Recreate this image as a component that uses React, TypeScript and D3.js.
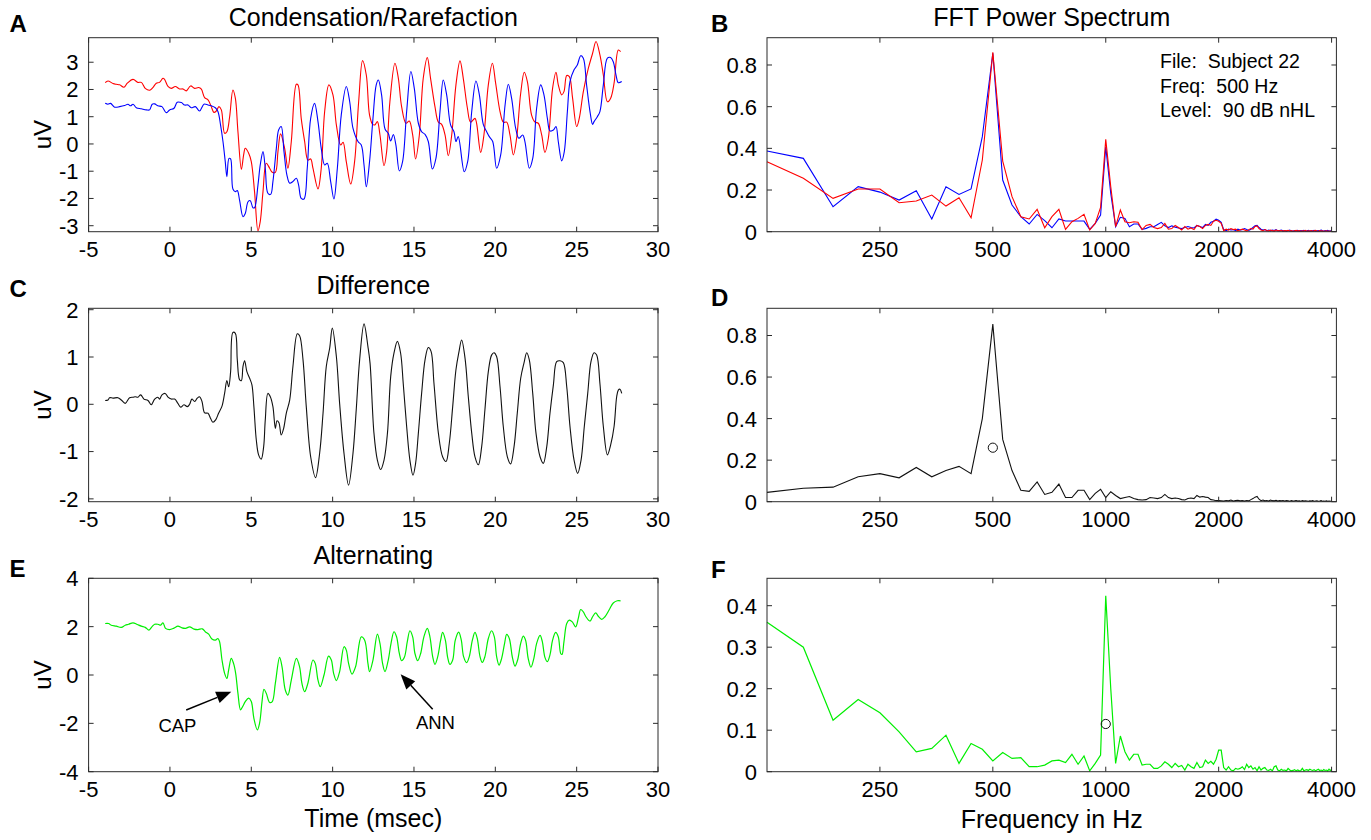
import React from 'react';
import * as d3 from 'd3';

const FONT = '"Liberation Sans", Arial, Helvetica, sans-serif';

// ---------- Time-domain waveforms [time ms, uV] ----------
const condensationWave: [number, number][] = [
[-3.98,2.25],[-3.81,2.31],[-3.50,2.22],[-3.30,2.19],[-3.09,2.17],[-2.83,2.08],[-2.62,2.23],[-2.27,2.37],[-1.97,2.26],[-1.76,2.26],[-1.52,2.04],[-1.25,1.97],[-1.05,2.07],[-0.84,2.23],[-0.64,2.26],[-0.43,2.41],[-0.33,2.37],[-0.12,2.11],[0.08,2.04],[0.33,2.11],[0.59,2.02],[0.80,2.02],[1.00,1.95],[1.27,2.13],[1.52,2.04],[1.76,2.07],[1.93,2.01],[2.13,1.70],[2.34,1.62],[2.54,1.37],[2.70,1.16],[2.85,1.21],[3.01,1.37],[3.16,1.25],[3.36,0.39],[3.50,0.45],[3.67,1.00],[3.87,1.98],[4.02,1.68],[4.18,0.45],[4.39,-0.93],[4.53,-0.40],[4.63,-0.16],[4.84,-0.34],[5.00,-0.65],[5.20,-1.75],[5.41,-3.19],[5.55,-2.85],[5.72,-1.75],[5.92,-0.71],[6.13,-0.89],[6.29,-1.04],[6.48,-1.04],[6.64,-0.28],[6.80,0.37],[7.05,-0.16],[7.25,-0.89],[7.46,0.09],[7.77,2.19],[7.87,2.17],[8.07,0.94],[8.28,0.09],[8.48,-0.59],[8.65,-0.55],[8.79,-0.89],[9.10,-1.65],[9.30,-0.89],[9.51,1.19],[9.77,2.17],[10.02,1.80],[10.23,0.70],[10.49,-0.04],[10.64,0.06],[10.84,-0.65],[11.11,-1.47],[11.35,-0.65],[11.60,1.55],[11.84,3.06],[12.07,2.53],[12.27,1.06],[12.46,0.72],[12.60,0.70],[12.75,0.82],[12.91,0.33],[13.16,-0.80],[13.32,-0.28],[13.52,1.55],[13.83,2.96],[14.04,2.41],[14.24,1.37],[14.51,0.76],[14.71,0.84],[14.92,0.33],[15.10,-0.55],[15.33,0.33],[15.57,2.41],[15.82,3.17],[16.02,2.41],[16.29,1.37],[16.50,0.80],[16.70,0.72],[16.91,0.33],[17.11,-0.43],[17.32,0.33],[17.58,2.17],[17.83,3.05],[18.03,2.41],[18.28,1.33],[18.48,0.80],[18.75,0.94],[18.85,0.76],[19.10,-0.31],[19.30,0.33],[19.57,2.17],[19.82,2.96],[20.02,2.23],[20.29,1.19],[20.49,0.80],[20.70,0.80],[20.90,0.33],[21.11,-0.40],[21.31,0.21],[21.56,1.86],[21.78,2.63],[21.97,2.29],[22.23,1.06],[22.44,0.80],[22.64,0.76],[22.85,0.33],[23.05,-0.31],[23.26,0.21],[23.52,2.04],[23.73,2.63],[23.87,2.17],[24.08,1.80],[24.22,1.92],[24.39,2.51],[24.55,2.47],[24.75,1.68],[25.00,0.64],[25.16,0.94],[25.41,1.92],[25.72,2.78],[25.98,3.33],[26.19,3.76],[26.43,3.27],[26.64,2.53],[26.89,1.55],[27.09,1.68],[27.30,2.23],[27.56,3.45],[27.70,3.39]
];

const rarefactionWave: [number, number][] = [
[-3.98,1.49],[-3.81,1.46],[-3.65,1.49],[-3.40,1.35],[-3.09,1.37],[-2.79,1.41],[-2.58,1.46],[-2.42,1.40],[-2.27,1.46],[-2.07,1.33],[-1.76,1.29],[-1.45,1.25],[-1.25,1.25],[-1.09,1.46],[-0.94,1.47],[-0.74,1.40],[-0.49,1.37],[-0.23,1.15],[-0.02,1.25],[0.25,1.31],[0.45,1.53],[0.70,1.52],[0.90,1.43],[1.11,1.43],[1.31,1.33],[1.56,1.37],[1.82,1.21],[2.09,1.46],[2.34,1.43],[2.54,1.40],[2.79,1.33],[2.95,1.19],[3.11,0.70],[3.26,0.09],[3.40,-0.65],[3.50,-1.20],[3.63,-0.53],[3.73,-0.55],[3.87,-1.65],[4.02,-1.75],[4.14,-1.71],[4.28,-2.06],[4.49,-2.67],[4.63,-2.55],[4.80,-2.12],[4.94,-2.08],[5.10,-2.34],[5.20,-2.34],[5.41,-1.51],[5.55,-0.77],[5.72,-0.28],[5.86,-0.89],[6.02,-1.81],[6.19,-1.85],[6.33,-1.38],[6.54,-0.16],[6.68,0.51],[6.84,0.64],[7.01,-0.28],[7.19,-1.14],[7.36,-1.44],[7.56,-1.38],[7.77,-1.26],[7.91,-1.51],[8.07,-2.00],[8.24,-2.02],[8.44,-0.89],[8.65,0.94],[8.89,1.49],[9.10,0.82],[9.30,-0.16],[9.51,-0.77],[9.67,-0.71],[9.88,-1.38],[10.08,-2.02],[10.29,-0.89],[10.53,1.06],[10.84,2.11],[11.05,1.55],[11.25,0.58],[11.56,0.09],[11.76,-0.04],[11.93,-0.77],[12.07,-1.57],[12.27,-0.65],[12.48,0.94],[12.68,2.17],[12.81,2.35],[13.01,1.80],[13.22,0.55],[13.42,0.39],[13.57,0.11],[13.73,0.35],[13.89,-0.04],[14.10,-0.99],[14.30,-0.65],[14.55,1.19],[14.81,2.66],[15.02,2.04],[15.27,0.76],[15.47,0.45],[15.68,0.35],[15.88,0.09],[16.13,-0.92],[16.35,-0.53],[16.60,1.19],[16.80,2.35],[17.01,1.80],[17.25,0.70],[17.46,0.45],[17.58,0.09],[17.72,0.27],[18.09,-1.02],[18.30,-0.65],[18.55,1.19],[18.81,2.31],[19.02,1.80],[19.26,0.72],[19.47,0.45],[19.63,0.27],[19.84,0.09],[20.08,-0.89],[20.33,-0.40],[20.60,1.43],[20.80,2.19],[21.00,1.68],[21.25,0.58],[21.45,0.21],[21.68,0.33],[21.82,0.09],[22.09,-0.89],[22.30,-0.53],[22.54,1.31],[22.79,2.17],[22.99,1.80],[23.20,0.94],[23.36,0.48],[23.57,0.51],[23.73,0.64],[23.87,0.09],[24.08,-0.62],[24.24,-0.28],[24.43,1.19],[24.59,2.29],[24.84,2.72],[25.04,2.90],[25.25,3.24],[25.41,3.15],[25.61,2.17],[25.82,1.19],[25.98,0.72],[26.07,0.82],[26.27,1.00],[26.43,1.19],[26.64,2.17],[26.89,3.15],[27.09,3.17],[27.25,3.02],[27.42,2.53],[27.56,2.25],[27.77,2.29]
];

const differenceWave: [number, number][] = [
[-3.98,0.08],[-3.81,0.09],[-3.71,0.14],[-3.50,0.13],[-3.20,0.14],[-2.99,0.09],[-2.75,0.02],[-2.48,0.14],[-2.27,0.15],[-2.13,0.16],[-1.97,0.15],[-1.80,0.20],[-1.60,0.11],[-1.35,0.08],[-1.15,-0.01],[-0.94,0.11],[-0.74,0.15],[-0.64,0.11],[-0.49,0.20],[-0.29,0.23],[-0.12,0.15],[0.08,0.11],[0.29,0.11],[0.49,0.02],[0.66,-0.06],[0.86,-0.01],[1.07,-0.05],[1.21,0.00],[1.35,0.11],[1.52,0.06],[1.68,0.13],[1.82,0.16],[1.97,0.06],[2.13,-0.18],[2.34,-0.19],[2.50,-0.30],[2.64,-0.38],[2.81,-0.33],[2.99,-0.19],[3.20,-0.04],[3.36,0.23],[3.50,0.50],[3.61,0.37],[3.73,0.69],[3.87,1.52],[4.02,1.50],[4.14,0.94],[4.28,0.52],[4.39,0.50],[4.49,0.80],[4.59,0.92],[4.73,0.69],[4.90,0.55],[5.04,0.41],[5.16,-0.05],[5.31,-0.76],[5.45,-1.07],[5.61,-1.16],[5.76,-0.90],[5.86,-0.33],[6.02,0.23],[6.17,0.16],[6.33,-0.05],[6.48,-0.51],[6.58,-0.35],[6.70,-0.39],[6.84,-0.65],[6.99,-0.51],[7.15,-0.19],[7.36,0.09],[7.56,0.80],[7.83,1.49],[7.97,1.45],[8.18,0.94],[8.38,-0.05],[8.65,-1.11],[8.95,-1.55],[9.20,-1.04],[9.41,-0.19],[9.61,0.80],[9.82,1.19],[9.98,1.61],[10.23,1.01],[10.43,0.02],[10.70,-1.04],[10.98,-1.71],[11.25,-1.04],[11.45,-0.12],[11.66,0.94],[11.93,1.70],[12.17,1.22],[12.30,0.87],[12.54,-0.61],[12.75,-1.18],[12.95,-1.38],[13.16,-1.18],[13.37,-0.61],[13.57,0.59],[13.77,1.08],[13.98,1.33],[14.18,1.08],[14.34,0.44],[14.55,-0.47],[14.75,-1.18],[14.94,-1.50],[15.10,-1.25],[15.27,-0.61],[15.47,0.23],[15.68,0.94],[15.88,1.20],[16.05,1.12],[16.23,0.44],[16.50,-0.61],[16.76,-1.11],[16.97,-1.21],[17.17,-0.83],[17.38,-0.05],[17.58,0.73],[17.75,1.08],[17.93,1.36],[18.14,0.97],[18.34,0.16],[18.55,-0.61],[18.75,-1.11],[18.96,-1.28],[19.16,-0.90],[19.36,-0.12],[19.57,0.69],[19.77,1.04],[19.92,1.09],[20.08,1.01],[20.29,0.37],[20.49,-0.47],[20.74,-1.11],[20.94,-1.26],[21.15,-0.90],[21.35,-0.19],[21.56,0.55],[21.76,0.87],[21.93,1.09],[22.09,0.94],[22.30,0.23],[22.50,-0.61],[22.75,-1.11],[22.95,-1.25],[23.16,-0.90],[23.36,-0.19],[23.57,0.41],[23.77,0.90],[23.98,0.92],[24.18,0.88],[24.39,0.37],[24.59,-0.47],[24.84,-1.18],[25.06,-1.46],[25.27,-1.18],[25.47,-0.47],[25.68,0.23],[25.88,0.90],[26.07,1.09],[26.23,1.04],[26.43,0.44],[26.64,-0.47],[26.89,-1.07],[27.09,-0.86],[27.30,-0.47],[27.46,0.16],[27.56,0.30],[27.66,0.32],[27.77,0.23]
];

const alternatingWave: [number, number][] = [
[-3.98,2.13],[-3.77,2.13],[-3.61,2.06],[-3.30,2.02],[-2.99,1.97],[-2.75,2.06],[-2.54,2.10],[-2.27,2.16],[-2.01,2.09],[-1.76,2.02],[-1.52,1.97],[-1.29,1.86],[-1.11,1.99],[-0.94,2.10],[-0.74,2.10],[-0.57,2.06],[-0.43,2.16],[-0.27,1.93],[-0.02,1.88],[0.25,1.94],[0.49,2.02],[0.74,1.95],[0.96,1.93],[1.21,1.99],[1.48,1.90],[1.72,1.88],[1.99,1.91],[2.17,1.79],[2.38,1.69],[2.58,1.49],[2.79,1.44],[2.95,1.51],[3.05,1.38],[3.20,0.62],[3.36,0.07],[3.50,-0.14],[3.61,0.21],[3.77,0.69],[3.91,0.48],[4.04,0.07],[4.18,-0.76],[4.34,-1.44],[4.49,-1.28],[4.63,-1.10],[4.84,-0.96],[5.00,-1.10],[5.16,-1.79],[5.37,-2.27],[5.51,-1.99],[5.66,-1.10],[5.78,-0.59],[5.92,-0.76],[6.13,-1.14],[6.29,-1.10],[6.48,-0.34],[6.74,0.73],[6.89,0.34],[7.09,-0.62],[7.25,-0.83],[7.46,-0.21],[7.77,0.69],[7.97,0.34],[8.11,-0.34],[8.28,-0.69],[8.48,-0.34],[8.79,0.62],[8.93,0.48],[9.10,-0.21],[9.24,-0.48],[9.47,0.00],[9.75,0.78],[9.92,0.62],[10.06,0.07],[10.23,-0.23],[10.43,0.14],[10.70,1.17],[10.84,1.03],[10.98,0.48],[11.19,0.04],[11.41,0.34],[11.76,1.58],[11.97,1.44],[12.17,0.48],[12.27,0.14],[12.48,0.62],[12.75,1.69],[12.91,1.31],[13.07,0.48],[13.22,0.14],[13.42,0.62],[13.59,1.31],[13.77,1.79],[13.93,1.58],[14.10,0.89],[14.24,0.59],[14.41,0.73],[14.59,1.38],[14.75,1.83],[14.92,1.58],[15.06,0.89],[15.23,0.59],[15.41,0.89],[15.61,1.58],[15.82,1.93],[15.98,1.58],[16.15,0.76],[16.29,0.44],[16.46,0.76],[16.64,1.44],[16.76,1.76],[16.93,1.44],[17.07,0.73],[17.21,0.44],[17.38,0.62],[17.54,1.44],[17.75,1.77],[17.91,1.44],[18.05,0.76],[18.24,0.51],[18.40,0.76],[18.59,1.44],[18.75,1.76],[18.89,1.51],[19.06,0.76],[19.20,0.52],[19.36,0.76],[19.57,1.51],[19.77,1.83],[19.94,1.58],[20.08,0.76],[20.23,0.41],[20.39,0.69],[20.57,1.31],[20.70,1.68],[20.86,1.51],[21.05,0.73],[21.21,0.37],[21.37,0.62],[21.56,1.31],[21.72,1.61],[21.86,1.44],[22.02,0.69],[22.19,0.32],[22.37,0.69],[22.54,1.31],[22.75,1.64],[22.89,1.38],[23.05,0.73],[23.20,0.55],[23.36,0.83],[23.52,1.44],[23.71,1.76],[23.87,1.58],[24.02,0.89],[24.10,0.85],[24.22,1.38],[24.39,2.13],[24.55,2.27],[24.73,2.20],[24.94,1.99],[25.10,2.34],[25.25,2.71],[25.41,2.61],[25.57,2.41],[25.82,2.23],[25.98,2.41],[26.17,2.57],[26.33,2.43],[26.54,2.30],[26.74,2.41],[27.01,2.71],[27.25,2.98],[27.50,3.07],[27.70,3.07]
];

// ---------- FFT power spectra: bins 4..128 of 31.25 Hz ----------
const binHz = 31.25;
const firstBin = 4;

const fftCondensation = [
0.336,0.256,0.160,0.205,0.205,0.139,0.147,0.176,0.123,0.163,
0.067,0.344,0.861,0.339,0.168,0.072,0.061,0.107,0.019,0.072,
0.107,0.011,0.048,0.064,0.083,0.008,0.040,0.117,0.443,0.216,
0.024,0.104,0.048,0.043,0.048,0.045,0.010,0.030,0.035,0.020,
0.015,0.020,0.040,0.012,0.015,0.030,0.020,0.008,0.025,0.012,
0.018,0.010,0.030,0.025,0.015,0.030,0.035,0.030,0.050,0.055,
0.050,0.040,0.005,0.012,0.008,0.015,0.010,0.012,0.005,0.008,
0.012,0.008,0.004,0.010,0.015,0.012,0.025,0.028,0.015,0.008,
0.005,0.010,0.006,0.004,0.008,0.005,0.003,0.008,0.006,0.004,
0.006,0.003,0.005,0.004,0.007,0.003,0.005,0.002,0.004,0.006,
0.003,0.005,0.002,0.004,0.003,0.006,0.002,0.004,0.003,0.005,
0.002,0.004,0.006,0.003,0.002,0.005,0.003,0.004,0.002,0.003,
0.004,0.002,0.003,0.002,0.003
];

const fftRarefaction = [
0.387,0.352,0.120,0.216,0.190,0.152,0.197,0.061,0.216,0.179,
0.205,0.456,0.856,0.248,0.128,0.072,0.037,0.083,0.053,0.019,
0.061,0.051,0.051,0.051,0.051,0.011,0.040,0.080,0.408,0.184,
0.024,0.069,0.064,0.024,0.037,0.037,0.011,0.016,0.024,0.024,
0.035,0.045,0.028,0.020,0.028,0.022,0.018,0.015,0.020,0.025,
0.020,0.018,0.030,0.025,0.020,0.035,0.030,0.045,0.050,0.060,
0.055,0.045,0.010,0.005,0.012,0.008,0.010,0.005,0.012,0.008,
0.010,0.015,0.010,0.006,0.012,0.020,0.028,0.030,0.020,0.012,
0.008,0.010,0.005,0.008,0.004,0.008,0.006,0.010,0.004,0.006,
0.008,0.004,0.006,0.003,0.005,0.008,0.004,0.003,0.005,0.004,
0.006,0.003,0.005,0.004,0.007,0.003,0.004,0.006,0.003,0.005,
0.004,0.006,0.003,0.004,0.005,0.003,0.008,0.004,0.003,0.005,
0.004,0.006,0.003,0.004,0.003
];

const fftDifference = [
0.045,0.065,0.070,0.120,0.135,0.115,0.165,0.120,0.150,0.170,
0.135,0.400,0.855,0.300,0.150,0.055,0.050,0.095,0.035,0.045,
0.085,0.020,0.020,0.055,0.055,0.010,0.040,0.060,0.020,0.048,
0.030,0.015,0.020,0.025,0.015,0.010,0.008,0.010,0.020,0.018,
0.015,0.020,0.035,0.020,0.015,0.018,0.015,0.010,0.008,0.015,
0.018,0.015,0.030,0.022,0.025,0.022,0.020,0.010,0.008,0.005,
0.005,0.004,0.003,0.006,0.004,0.008,0.003,0.005,0.007,0.004,
0.005,0.003,0.006,0.004,0.010,0.015,0.022,0.025,0.012,0.005,
0.008,0.004,0.006,0.003,0.008,0.005,0.004,0.007,0.003,0.005,
0.004,0.006,0.003,0.005,0.004,0.002,0.005,0.003,0.004,0.006,
0.003,0.004,0.002,0.005,0.003,0.004,0.003,0.002,0.004,0.003,
0.005,0.002,0.003,0.004,0.002,0.003,0.005,0.002,0.003,0.002,
0.004,0.002,0.003,0.002,0.003
];

const fftAlternating = [
0.360,0.300,0.124,0.174,0.142,0.096,0.048,0.056,0.088,0.020,
0.068,0.054,0.026,0.046,0.032,0.034,0.012,0.012,0.016,0.026,
0.028,0.022,0.042,0.018,0.038,0.002,0.020,0.040,0.424,0.200,
0.020,0.086,0.048,0.028,0.042,0.042,0.016,0.018,0.018,0.008,
0.008,0.014,0.024,0.018,0.010,0.020,0.012,0.015,0.004,0.018,
0.012,0.008,0.022,0.010,0.012,0.028,0.020,0.025,0.018,0.030,
0.052,0.052,0.010,0.004,0.012,0.004,0.002,0.008,0.006,0.008,
0.012,0.005,0.018,0.010,0.014,0.006,0.010,0.002,0.012,0.004,
0.008,0.010,0.004,0.003,0.006,0.002,0.012,0.014,0.004,0.002,
0.006,0.003,0.004,0.002,0.008,0.004,0.002,0.003,0.005,0.002,
0.004,0.002,0.003,0.008,0.002,0.004,0.005,0.003,0.006,0.004,
0.003,0.005,0.002,0.004,0.006,0.003,0.004,0.002,0.005,0.003,
0.004,0.002,0.006,0.003,0.005
];

// Stimulus-frequency markers (open circles) [Hz, value]
const markerD: [number, number] = [500, 0.26];
const markerF: [number, number] = [1000, 0.115];

// Tick values and labels
const timeTicks = [-5, 0, 5, 10, 15, 20, 25, 30];
const freqTicks = [250, 500, 1000, 2000, 4000];
const ticksA = [-3, -2, -1, 0, 1, 2, 3];
const ticksC = [-2, -1, 0, 1, 2];
const ticksE = [-4, -2, 0, 2, 4];
const ticksBD = [0, 0.2, 0.4, 0.6, 0.8];
const ticksF = [0, 0.1, 0.2, 0.3, 0.4];

const infoLines = ['File:  Subject 22', 'Freq:  500 Hz', 'Level:  90 dB nHL'];

const annotations = [
  { label: 'CAP', tip: [3.77, -0.69], tail: [1.0, -1.45], text: [0.46, -2.35] },
  { label: 'ANN', tip: [14.18, 0.03], tail: [16.15, -1.42], text: [16.32, -2.25] },
];

// ---------- Layout ----------
const LX0 = 88.6, LX1 = 658;
const RX0 = 767, RX1 = 1336.4;
const ROWS = [
  { top: 37.7, bottom: 231.7 },
  { top: 308.3, bottom: 501.7 },
  { top: 578.3, bottom: 771.7 },
];

const AXIS = '#2b2b2b';
const TICK_FS = 22;
const TICKLEN = 5;

const fftPoints = (vals: number[]) => vals.map((v, i) => [(firstBin + i) * binHz, v] as [number, number]);

type Scale = (v: number) => number;

function Frame({ x0, x1, y0, y1, xs, ys, xTicks, yTicks, fmtY }: {
  x0: number; x1: number; y0: number; y1: number; xs: Scale; ys: Scale;
  xTicks: number[]; yTicks: number[]; fmtY: (v: number) => string;
}) {
  return (
    <g>
      <rect x={x0} y={y0} width={x1 - x0} height={y1 - y0} fill="none" stroke={AXIS} strokeWidth={1} />
      {xTicks.map((t) => {
        const x = xs(t);
        return (
          <g key={'x' + t}>
            <line x1={x} x2={x} y1={y1} y2={y1 - TICKLEN} stroke={AXIS} />
            <line x1={x} x2={x} y1={y0} y2={y0 + TICKLEN} stroke={AXIS} />
            <text x={x} y={y1 + 25} textAnchor="middle" fontSize={TICK_FS} fontFamily={FONT} fill="#000">{String(t)}</text>
          </g>
        );
      })}
      {yTicks.map((t) => {
        const y = ys(t);
        return (
          <g key={'y' + t}>
            <line x1={x0} x2={x0 + TICKLEN} y1={y} y2={y} stroke={AXIS} />
            <line x1={x1} x2={x1 - TICKLEN} y1={y} y2={y} stroke={AXIS} />
            <text x={x0 - 10} y={y + TICK_FS * 0.36} textAnchor="end" fontSize={TICK_FS} fontFamily={FONT} fill="#000">{fmtY(t)}</text>
          </g>
        );
      })}
    </g>
  );
}

export default function App() {
  const xTime = d3.scaleLinear().domain([-5, 30]).range([LX0, LX1]);
  const xFreq = d3.scaleLog().base(2).domain([125, 4120]).range([RX0, RX1]);

  const yA = d3.scaleLinear().domain([-3.22, 3.9]).range([ROWS[0].bottom, ROWS[0].top]);
  const yC = d3.scaleLinear().domain([-2.06, 2.03]).range([ROWS[1].bottom, ROWS[1].top]);
  const yE = d3.scaleLinear().domain([-4, 4]).range([ROWS[2].bottom, ROWS[2].top]);
  const yB = d3.scaleLinear().domain([0, 0.931]).range([ROWS[0].bottom, ROWS[0].top]);
  const yD = d3.scaleLinear().domain([0, 0.931]).range([ROWS[1].bottom, ROWS[1].top]);
  const yF = d3.scaleLinear().domain([0, 0.466]).range([ROWS[2].bottom, ROWS[2].top]);

  const wave = (ys: Scale) =>
    d3.line<[number, number]>().x((d) => xTime(d[0])).y((d) => ys(d[1])).curve(d3.curveCatmullRom.alpha(0.5));
  const spec = (ys: Scale) =>
    d3.line<[number, number]>().x((d) => xFreq(d[0])).y((d) => ys(d[1]));

  const fmtInt = (v: number) => String(v);
  const fmtDec = (v: number) => (v === 0 ? '0' : String(v));

  const titleStyle = { fontSize: 25, fontFamily: FONT, fill: '#000' };
  const letterStyle = { fontSize: 24, fontFamily: FONT, fontWeight: 700 as const, fill: '#000' };

  const lcx = (LX0 + LX1) / 2;
  const rcx = (RX0 + RX1) / 2;

  const arrow = (a: typeof annotations[0]) => {
    const tx = xTime(a.tip[0]), ty = yE(a.tip[1]);
    const sx = xTime(a.tail[0]), sy = yE(a.tail[1]);
    const ang = Math.atan2(ty - sy, tx - sx);
    const L = 15, W = 6;
    const bx = tx - L * Math.cos(ang), by = ty - L * Math.sin(ang);
    const px = -Math.sin(ang), py = Math.cos(ang);
    const pts = `${tx},${ty} ${bx + W * px},${by + W * py} ${bx - W * px},${by - W * py}`;
    return (
      <g key={a.label}>
        <line x1={sx} y1={sy} x2={bx} y2={by} stroke="#000" strokeWidth={1.5} />
        <polygon points={pts} fill="#000" />
        <text x={xTime(a.text[0])} y={yE(a.text[1])} textAnchor="middle" fontSize={18.5} fontFamily={FONT} fill="#000">{a.label}</text>
      </g>
    );
  };

  return (
    <svg width={1371} height={840} style={{ position: 'absolute', left: 0, top: 0, background: '#fff' }}>
      <rect width={1371} height={840} fill="#fff" />

      {/* Panel letters */}
      <text x={9.5} y={31.5} {...letterStyle}>A</text>
      <text x={711} y={31.5} {...letterStyle}>B</text>
      <text x={9.5} y={297} {...letterStyle}>C</text>
      <text x={711} y={306} {...letterStyle}>D</text>
      <text x={9.5} y={577} {...letterStyle}>E</text>
      <text x={711} y={578} {...letterStyle}>F</text>

      {/* Titles */}
      <text x={lcx} y={26} textAnchor="middle" {...titleStyle}>Condensation/Rarefaction</text>
      <text x={rcx} y={26} textAnchor="middle" {...titleStyle}>FFT Power Spectrum</text>
      <text x={lcx} y={294} textAnchor="middle" {...titleStyle}>Difference</text>
      <text x={lcx} y={564} textAnchor="middle" {...titleStyle}>Alternating</text>

      {/* Y labels */}
      {ROWS.map((r, i) => (
        <text key={'uv' + i} transform={`translate(51,${(r.top + r.bottom) / 2}) rotate(-90)`} textAnchor="middle" fontSize={24} fontFamily={FONT} fill="#000">uV</text>
      ))}

      {/* X labels */}
      <text x={lcx} y={827} textAnchor="middle" {...titleStyle}>Time (msec)</text>
      <text x={rcx} y={828} textAnchor="middle" {...titleStyle}>Frequency in Hz</text>

      {/* Panel A */}
      <path d={wave(yA)(condensationWave) || ''} fill="none" stroke="#ff0000" strokeWidth={1.1} />
      <path d={wave(yA)(rarefactionWave) || ''} fill="none" stroke="#0000ff" strokeWidth={1.1} />
      <Frame x0={LX0} x1={LX1} y0={ROWS[0].top} y1={ROWS[0].bottom} xs={xTime} ys={yA} xTicks={timeTicks} yTicks={ticksA} fmtY={fmtInt} />

      {/* Panel C */}
      <path d={wave(yC)(differenceWave) || ''} fill="none" stroke="#111" strokeWidth={1.1} />
      <Frame x0={LX0} x1={LX1} y0={ROWS[1].top} y1={ROWS[1].bottom} xs={xTime} ys={yC} xTicks={timeTicks} yTicks={ticksC} fmtY={fmtInt} />

      {/* Panel E */}
      <path d={wave(yE)(alternatingWave) || ''} fill="none" stroke="#00ee00" strokeWidth={1.2} />
      <Frame x0={LX0} x1={LX1} y0={ROWS[2].top} y1={ROWS[2].bottom} xs={xTime} ys={yE} xTicks={timeTicks} yTicks={ticksE} fmtY={fmtInt} />
      {annotations.map(arrow)}

      {/* Panel B */}
      <path d={spec(yB)(fftPoints(fftRarefaction)) || ''} fill="none" stroke="#0000ff" strokeWidth={1.1} />
      <path d={spec(yB)(fftPoints(fftCondensation)) || ''} fill="none" stroke="#ff0000" strokeWidth={1.1} />
      <Frame x0={RX0} x1={RX1} y0={ROWS[0].top} y1={ROWS[0].bottom} xs={xFreq} ys={yB} xTicks={freqTicks} yTicks={ticksBD} fmtY={fmtDec} />
      {infoLines.map((s, i) => (
        <text key={s} x={1160} y={68 + i * 24.5} fontSize={19.5} fontFamily={FONT} fill="#000" style={{ whiteSpace: 'pre' }}>{s}</text>
      ))}

      {/* Panel D */}
      <path d={spec(yD)(fftPoints(fftDifference)) || ''} fill="none" stroke="#111" strokeWidth={1.1} />
      <circle cx={xFreq(markerD[0])} cy={yD(markerD[1])} r={4.6} fill="none" stroke="#111" strokeWidth={1} />
      <Frame x0={RX0} x1={RX1} y0={ROWS[1].top} y1={ROWS[1].bottom} xs={xFreq} ys={yD} xTicks={freqTicks} yTicks={ticksBD} fmtY={fmtDec} />

      {/* Panel F */}
      <path d={spec(yF)(fftPoints(fftAlternating)) || ''} fill="none" stroke="#00ee00" strokeWidth={1.2} />
      <circle cx={xFreq(markerF[0])} cy={yF(markerF[1])} r={4.6} fill="none" stroke="#111" strokeWidth={1} />
      <Frame x0={RX0} x1={RX1} y0={ROWS[2].top} y1={ROWS[2].bottom} xs={xFreq} ys={yF} xTicks={freqTicks} yTicks={ticksF} fmtY={fmtDec} />
    </svg>
  );
}
